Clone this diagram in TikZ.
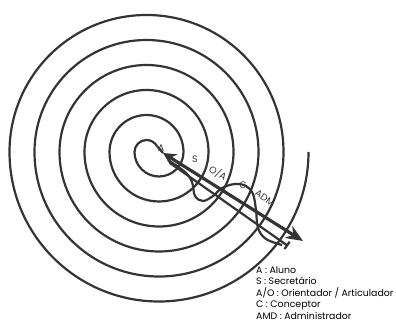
\documentclass[tikz,border=0pt]{standalone}
\usepackage{fontspec}
\setmainfont{Poppins}
\usetikzlibrary{arrows.meta,positioning}
\definecolor{inkgray}{RGB}{52,52,52}
\begin{document}
\begin{tikzpicture}[x=1pt,y=1pt,ring/.style={draw=inkgray,line width=2.2pt},arr/.style={{Stealth[length=13pt,width=13pt]}-{Stealth[length=17pt,width=14pt]},line width=3.2pt,draw=inkgray},lab/.style={font=\fontsize{9.5}{10}\selectfont,inner sep=0pt,text=inkgray},keytext/.style={font=\fontsize{9.4}{11.6}\selectfont,align=left,inner sep=0pt,anchor=north west}]
\useasboundingbox (0,0) rectangle (396,324);
% spiral, two centres
\draw[ring] (308.5,172) arc[start angle=0,end angle=-180,radius=149.5] arc[start angle=180,end angle=0,radius=137]
 arc[start angle=0,end angle=-180,radius=124.5] arc[start angle=180,end angle=0,radius=112]
 arc[start angle=0,end angle=-180,radius=99.5] arc[start angle=180,end angle=0,radius=87]
 arc[start angle=0,end angle=-180,radius=74.5] arc[start angle=180,end angle=0,radius=62]
 arc[start angle=0,end angle=-180,radius=49.5] arc[start angle=180,end angle=0,radius=37]
 arc[start angle=0,end angle=-180,radius=24.5] arc[start angle=180,end angle=30,radius=12] coordinate (hook);
\coordinate (tipA) at (163,171);\coordinate (tipB) at (303,83);
\coordinate (low1) at (170,161);\coordinate (low2) at (288,78);
\draw[ring] (hook) -- (tipA);
\draw[arr] (tipA) -- (tipB);
\draw[ring,-{Bar[width=9pt]}] (low1) -- (low2);
\draw[ring] plot[smooth,tension=.6] coordinates {(168,164) (185,152) (192,142) (195,128) (203,123) (213,128) (222,136) (235,140) (246,138) (253,130) (256,114) (258,96) (266,85) (282,79)};
\node[lab] (a) at (161,176) {A};
\node[lab] (s) at (195,165) {S};
\node[lab,rotate=-30] (oa) at (218,151) {O/A};
\node[lab] (c) at (243,139) {C};
\node[lab,rotate=-35] (adm) at (265,126) {ADM};
\node[keytext] (key) at (256,58) {A : Aluno\\S : Secretário\\A/O : Orientador / Articulador\\C : Conceptor\\AMD : Administrador};
\end{tikzpicture}
\end{document}
